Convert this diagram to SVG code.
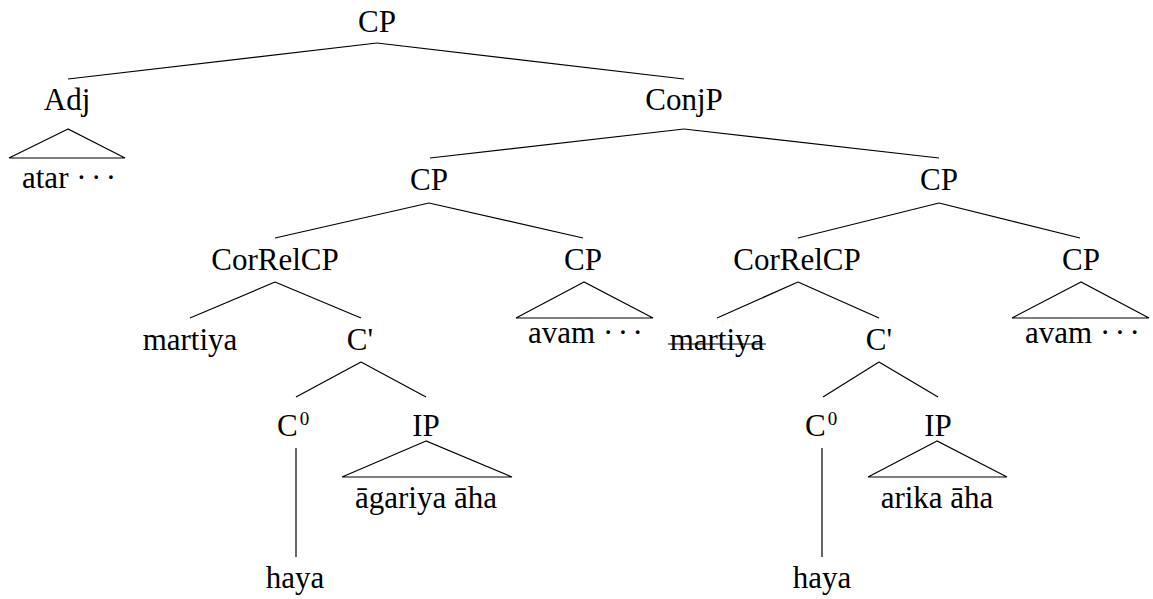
<svg xmlns="http://www.w3.org/2000/svg" width="1153" height="599" viewBox="0 0 1153 599">
  <style>
    text { font-family: "Liberation Serif", "Times New Roman", "DejaVu Serif", serif; font-size: 31px; fill: #000; }
    .c { text-anchor: middle; }
    .sup { font-size: 19px; }
    .dots { letter-spacing: 4.5px; }
    line, polygon { stroke: #000; stroke-width: 1.2; fill: none; }
  </style>
  <rect width="1153" height="599" fill="#fff"/>

  <!-- branches between nodes -->
  <g id="connectors">
    <line x1="377" y1="43" x2="68" y2="79"/>
    <line x1="377" y1="43" x2="684" y2="79"/>
    <line x1="684" y1="129" x2="430" y2="158"/>
    <line x1="684" y1="129" x2="939" y2="158"/>
    <line x1="429" y1="203" x2="275" y2="238"/>
    <line x1="429" y1="203" x2="583" y2="238"/>
    <line x1="939" y1="203" x2="798" y2="238"/>
    <line x1="939" y1="203" x2="1080" y2="238"/>
    <line x1="275" y1="282" x2="190" y2="318"/>
    <line x1="275" y1="282" x2="361" y2="318"/>
    <line x1="798" y1="282" x2="717" y2="318"/>
    <line x1="798" y1="282" x2="879" y2="318"/>
    <line x1="361" y1="362" x2="296" y2="397"/>
    <line x1="361" y1="362" x2="426" y2="397"/>
    <line x1="879" y1="362" x2="823" y2="397"/>
    <line x1="879" y1="362" x2="938" y2="397"/>
    <line x1="296" y1="448" x2="296" y2="557"/>
    <line x1="822" y1="448" x2="822" y2="557"/>
  </g>

  <g id="cp-root"><text class="c" x="377" y="32">CP</text></g>

  <!-- collapsed subtrees use a triangle over their yield -->
  <g id="adj">
    <text class="c" x="67" y="110">Adj</text>
    <polygon points="68,129 9,158 125,158"/>
    <text x="22" y="188">atar <tspan class="dots">···</tspan></text>
  </g>

  <g id="conjp"><text class="c" x="684" y="110">ConjP</text></g>

  <g id="cp-left"><text class="c" x="429" y="190">CP</text></g>
  <g id="cp-right"><text class="c" x="939" y="190">CP</text></g>

  <g id="correlcp-left"><text class="c" x="275" y="270">CorRelCP</text></g>
  <g id="cp-left-2">
    <text class="c" x="583" y="270">CP</text>
    <polygon points="584,282 516,318 653,318"/>
    <text x="528" y="343">avam <tspan class="dots">···</tspan></text>
  </g>
  <g id="correlcp-right"><text class="c" x="797" y="270">CorRelCP</text></g>
  <g id="cp-right-2">
    <text class="c" x="1081" y="270">CP</text>
    <polygon points="1081,282 1012,318 1149,318"/>
    <text x="1025" y="343">avam <tspan class="dots">···</tspan></text>
  </g>

  <g id="martiya-left"><text class="c" x="190" y="350">martiya</text></g>
  <g id="cbar-left"><text class="c" x="360" y="350">C'</text></g>
  <!-- deleted copy: struck through -->
  <g id="martiya-right">
    <text class="c" x="717" y="350">martiya</text>
    <line x1="668" y1="344" x2="766" y2="344"/>
  </g>
  <g id="cbar-right"><text class="c" x="879" y="350">C'</text></g>

  <g id="c0-left"><text x="277" y="436">C<tspan class="sup" dx="2" dy="-11">0</tspan></text></g>
  <g id="ip-left">
    <text class="c" x="426" y="436">IP</text>
    <polygon points="426,441 342,477 512,477"/>
    <text class="c" x="426" y="508">āgariya āha</text>
  </g>
  <g id="c0-right"><text x="805" y="436">C<tspan class="sup" dx="2" dy="-11">0</tspan></text></g>
  <g id="ip-right">
    <text class="c" x="938" y="436">IP</text>
    <polygon points="937,441 868,477 1007,477"/>
    <text class="c" x="937" y="508">arika āha</text>
  </g>

  <g id="haya-left"><text class="c" x="295" y="588">haya</text></g>
  <g id="haya-right"><text class="c" x="822" y="588">haya</text></g>
</svg>
